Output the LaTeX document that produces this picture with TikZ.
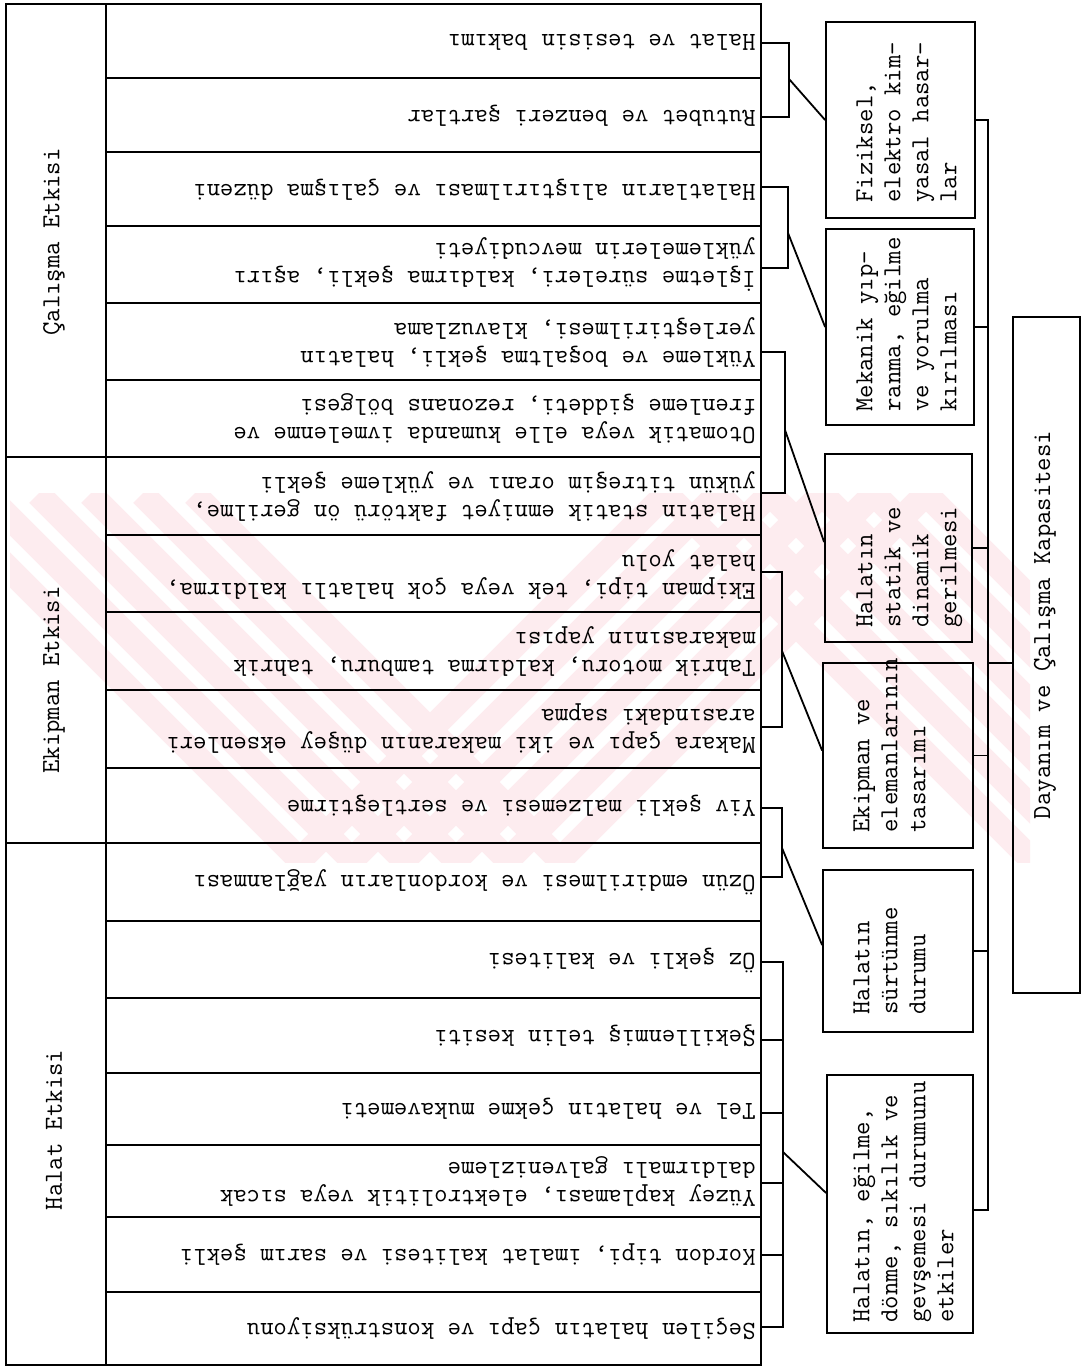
\documentclass[tikz,border=0pt]{standalone}
\usetikzlibrary{calc}
\definecolor{wm}{RGB}{253,236,239}
\newcommand\twfont{\fontsize{13}{14}\selectfont\ttfamily}
\begin{document}
\begin{tikzpicture}[x=0.5pt,y=-0.5pt,
  frame/.style={line width=0.9pt},
  sep/.style={line width=0.7pt},
  conn/.style={line width=0.9pt},
  rowtxt/.style={rotate=180, anchor=west, align=left, inner sep=0pt, font=\twfont},
  grptxt/.style={rotate=90, inner sep=0pt, font=\twfont},
  boxtxt/.style={rotate=90, anchor=north west, align=left, inner sep=0pt, font=\twfont},
  bx/.style={draw, line width=0.9pt, inner sep=0pt}]
\useasboundingbox (0,0) rectangle (1090,1368);
\fill[white] (0,0) rectangle (1090,1368);
% watermark
\begin{scope}
\clip (10,494) rectangle (1030,862);
\foreach \d in {300,352,...,560}
  \draw[wm, line width=12.5pt] (\d-366,494) -- (\d,860) -- (\d+366,494) -- (\d+732,860) -- (\d+1098,494);
\end{scope}
% table frame
\draw[frame] (6,4) rectangle (761,1365);
\draw[frame] (106,4) -- (106,1365);
\foreach \y in {78,152,226,303,380,535,612,690,768,921,998,1073,1145,1217,1292}
  \draw[sep] (106,\y) -- (761,\y);
\foreach \y in {457,843}
  \draw[sep] (6,\y) -- (761,\y);
% group labels
\node[grptxt] (g1) at (54,242) {Çalışma Etkisi};
\node[grptxt] (g2) at (54,680) {Ekipman Etkisi};
\node[grptxt] (g3) at (54,1130) {Halat Etkisi};
% rows
\node[rowtxt] (r1) at (756,42) {Halat ve tesisin bakımı};
\node[rowtxt] (r2) at (756,116) {Rutubet ve benzeri şartlar};
\node[rowtxt] (r3) at (756,190) {Halatların alıştırılması ve çalışma düzeni};
\node[rowtxt] (r4) at (756,265) {İşletme süreleri, kaldırma şekli, aşırı\\yüklemelerin mevcudiyeti};
\node[rowtxt] (r5) at (756,342) {Yükleme ve boşaltma şekli, halatın\\yerleştirilmesi, klavuzlama};
\node[rowtxt] (r6) at (756,419) {Otomatik veya elle kumanda ivmelenme ve\\frenleme şiddeti, rezonans bölgesi};
\node[rowtxt] (r7) at (756,497) {Halatın statik emniyet faktörü ön gerilme,\\yükün titreşim oranı ve yükleme şekli};
\node[rowtxt] (r8) at (756,574) {Ekipman tipi, tek veya çok halatlı kaldırma,\\halat yolu};
\node[rowtxt] (r9) at (756,651) {Tahrik motoru, kaldırma tamburu, tahrik\\makarasının yapısı};
\node[rowtxt] (r10) at (756,729) {Makara çapı ve iki makaranın düşey eksenleri\\arasındaki sapma};
\node[rowtxt] (r11) at (756,806) {Yiv şekli malzemesi ve sertleştirme};
\node[rowtxt] (r12) at (756,882) {Özün emdirilmesi ve kordonların yağlanması};
\node[rowtxt] (r13) at (756,960) {Öz şekli ve kalitesi};
\node[rowtxt] (r14) at (756,1036) {Şekillenmiş telin kesiti};
\node[rowtxt] (r15) at (756,1109) {Tel ve halatın çekme mukavemeti};
\node[rowtxt] (r16) at (756,1181) {Yüzey kaplaması, elektrolitik veya sıcak\\daldırmalı galvenizleme};
\node[rowtxt] (r17) at (756,1255) {Kordon tipi, imalat kalitesi ve sarım şekli};
\node[rowtxt] (r18) at (756,1329) {Seçilen halatın çapı ve konstrüksiyonu};
% boxes
\node[bx, minimum width=74.5pt, minimum height=98pt] (fiz) at (900.5,120) {};
\node[bx, minimum width=74pt, minimum height=98pt] (mek) at (900,327) {};
\node[bx, minimum width=73.5pt, minimum height=94pt] (sta) at (898.5,548) {};
\node[bx, minimum width=75pt, minimum height=92.5pt] (ekp) at (898,755.5) {};
\node[bx, minimum width=75pt, minimum height=81pt] (sur) at (898,951) {};
\node[bx, minimum width=73pt, minimum height=129pt] (egi) at (900,1204) {};
\node[bx, minimum width=33.5pt, minimum height=338pt] (dy) at (1046.5,655) {};
% box texts
\node[boxtxt] (fizt) at (856,203) {Fiziksel,\\elektro kim-\\yasal hasar-\\lar};
\node[boxtxt] (mekt) at (856,412) {Mekanik yıp-\\ranma, eğilme\\ve yorulma\\kırılması};
\node[boxtxt] (stat) at (856,628) {Halatın\\statik ve\\dinamik\\gerilmesi};
\node[boxtxt] (ekpt) at (853,833) {Ekipman ve\\elemanlarının\\tasarımı};
\node[boxtxt] (surt) at (853,1015) {Halatın\\sürtünme\\durumu};
\node[boxtxt] (egit) at (853,1323) {Halatın, eğilme,\\dönme, sıkılık ve\\gevşemesi durumunu\\etkiler};
\node[grptxt] (dyt) at (1045,625) {Dayanım ve Çalışma Kapasitesi};
% brackets
\coordinate (b1m) at (789,79);
\coordinate (b2m) at (788,233);
\coordinate (b3m) at (785,430);
\coordinate (b4m) at (782,651);
\coordinate (b5m) at (782,848);
\coordinate (b6m) at (783,1152);
\draw[conn] (761,43) -- (b1m |- 0,43) -- (b1m |- 0,117) -- (761,117);
\draw[conn] (b1m) -- (fiz.west);
\draw[conn] (761,187) -- (b2m |- 0,187) -- (b2m |- 0,268) -- (761,268);
\draw[conn] (b2m) -- (mek.west);
\draw[conn] (761,352) -- (b3m |- 0,352) -- (b3m |- 0,493) -- (761,493);
\draw[conn] (b3m) -- ($(sta.west)+(0,-6)$);
\draw[conn] (761,572) -- (b4m |- 0,572) -- (b4m |- 0,727) -- (761,727);
\draw[conn] (b4m) -- ($(ekp.west)+(0,-5)$);
\draw[conn] (761,808) -- (b5m |- 0,808) -- (b5m |- 0,877) -- (761,877);
\draw[conn] (b5m) -- ($(sur.west)+(0,-6)$);
\draw[conn] (761,962) -- (b6m |- 0,962) -- (b6m |- 0,1327) -- (761,1327);
\foreach \y in {1040,1113,1183,1255}
  \draw[conn] (761,\y) -- (b6m |- 0,\y);
\draw[conn] (b6m) -- ($(egi.west)+(0,-11)$);
% spine
\coordinate (spT) at (988,120);
\draw[conn] (fiz.east) -- (fiz.east -| spT) -- ($(egi.east -| spT)+(0,6)$) -- ($(egi.east)+(0,6)$);
\foreach \b in {mek,sta,ekp,sur}
  \draw[conn] (\b.east) -- (\b.east -| spT);
\coordinate (dyc) at (988,663);
\draw[conn] (dyc) -- (dyc -| dy.west);
\end{tikzpicture}
\end{document}
